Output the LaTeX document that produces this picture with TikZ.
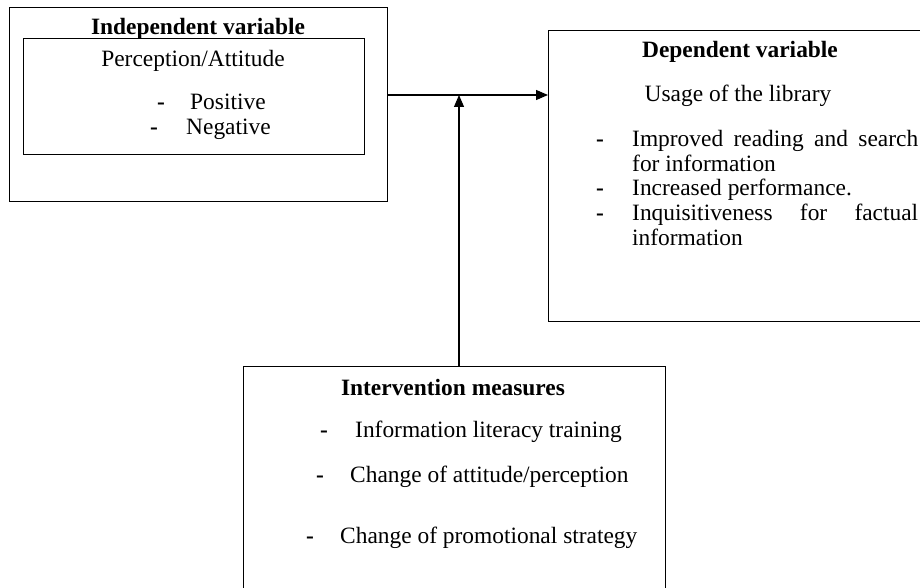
\documentclass[tikz,border=0pt]{standalone}
\usepackage{fontspec}
\setmainfont{Liberation Serif}
\usetikzlibrary{arrows.meta}
\begin{document}
\begin{tikzpicture}[x=1bp,y=-1bp,
  boxframe/.style={draw=black,line width=1.1bp,rectangle,inner sep=0pt,anchor=north west},
  txt/.style={inner sep=0pt,font=\fontsize{23.5}{26.5}\selectfont},
  ttl/.style={txt,anchor=base,font=\fontsize{23.5}{26.5}\selectfont\bfseries},
  itm/.style={txt,anchor=base west},
  dsh/.style={txt,anchor=base west,font=\fontsize{23.5}{26.5}\selectfont\bfseries},
  conn/.style={line width=1.1bp,-{Triangle[length=12bp,width=10bp]}}]
\useasboundingbox (0,0) rectangle (920,588);
\clip (0,0) rectangle (920,588);
% boxes
\node[boxframe,minimum width=378bp,minimum height=194bp] (indep) at (9,7) {};
\node[boxframe,minimum width=341bp,minimum height=116bp] (inner) at (23,38) {};
\node[boxframe,minimum width=390bp,minimum height=291bp] (dep) at (548,30) {};
\node[boxframe,minimum width=422bp,minimum height=240bp] (interv) at (243,366) {};
% independent texts
\node[ttl] (t1) at (198,35) {Independent variable};
\node[txt,anchor=base] (t2) at (193,67) {Perception/Attitude};
\node[dsh] (d1) at (157,110) {-};
\node[itm] (i1) at (190,110) {Positive};
\node[dsh] (d2) at (150,135) {-};
\node[itm] (i2) at (186,135) {Negative};
% dependent texts
\node[ttl] (t3) at (740,58) {Dependent variable};
\node[txt,anchor=base] (t4) at (738,102) {Usage of the library};
\node[dsh] (d3) at (596,147) {-};
\node[itm] (i3) at (632,147) {\makebox[286bp][s]{Improved reading and search}};
\node[itm] (i3b) at (632,172) {for information};
\node[dsh] (d4) at (596,196) {-};
\node[itm] (i4) at (632,196) {Increased performance.};
\node[dsh] (d5) at (596,221) {-};
\node[itm] (i5) at (632,221) {\makebox[286bp][s]{Inquisitiveness for factual}};
\node[itm] (i5b) at (632,246) {information};
% intervention texts
\node[ttl] (t5) at (453,395) {Intervention measures};
\node[dsh] (d6) at (320,437) {-};
\node[itm] (i6) at (355,437) {Information literacy training};
\node[dsh] (d7) at (316,482) {-};
\node[itm] (i7) at (350,482) {Change of attitude/perception};
\node[dsh] (d8) at (306,543) {-};
\node[itm] (i8) at (340,543) {Change of promotional strategy};
% connectors
\coordinate (j) at (459,95);
\draw[conn] (indep.east |- j) -- (dep.west |- j);
\draw[conn] (interv.north -| j) -- (j);
\end{tikzpicture}
\end{document}
